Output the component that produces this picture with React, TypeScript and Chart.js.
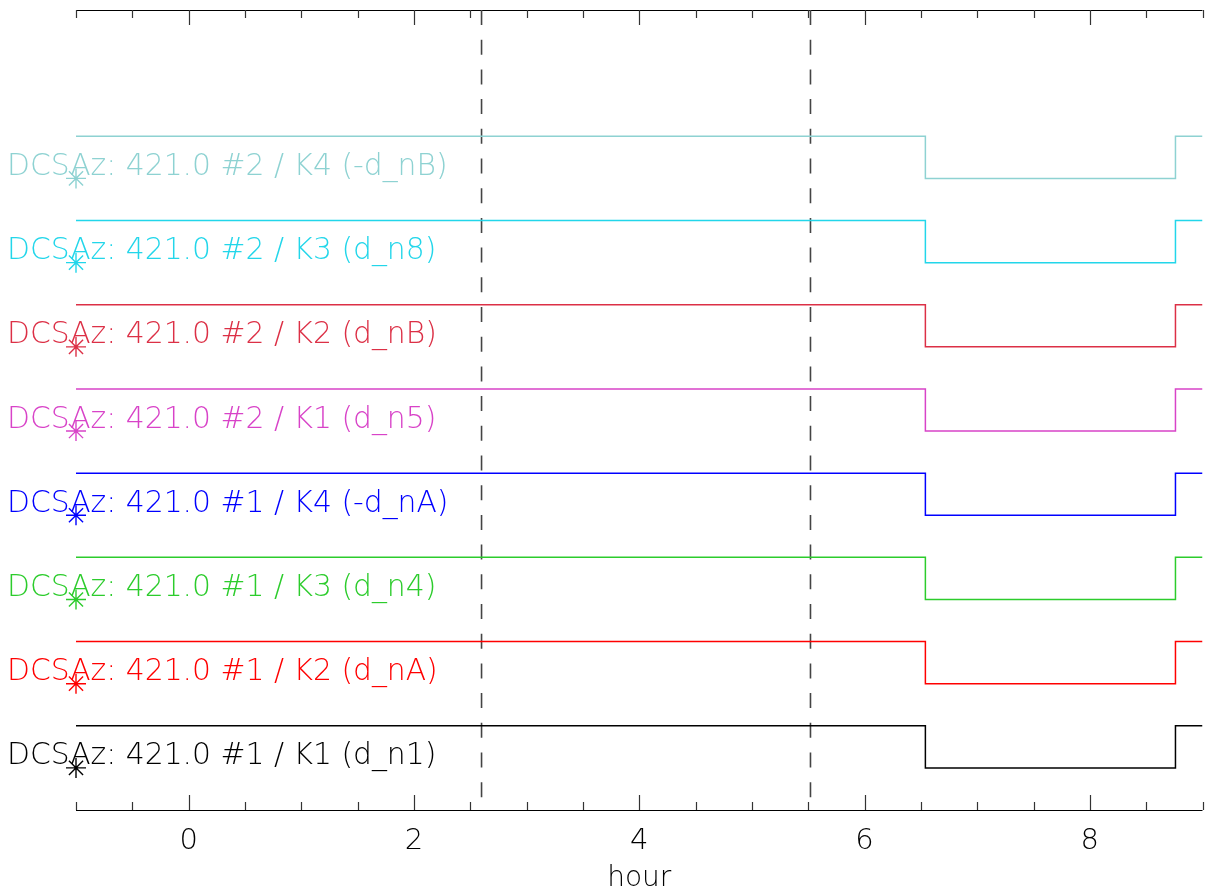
import React, { useEffect, useRef } from 'react';
import { Chart, registerables } from 'chart.js';

Chart.register(...registerables);

// ---- data ----
const seriesLabels = [
  'DCSAz: 421.0 #1 / K1 (d_n1)',
  'DCSAz: 421.0 #1 / K2 (d_nA)',
  'DCSAz: 421.0 #1 / K3 (d_n4)',
  'DCSAz: 421.0 #1 / K4 (-d_nA)',
  'DCSAz: 421.0 #2 / K1 (d_n5)',
  'DCSAz: 421.0 #2 / K2 (d_nB)',
  'DCSAz: 421.0 #2 / K3 (d_n8)',
  'DCSAz: 421.0 #2 / K4 (-d_nB)',
];
const seriesColors = [
  '#000000',
  '#ff0000',
  '#2ccc2c',
  '#0000ff',
  '#d843c8',
  '#dc3046',
  '#22d6ea',
  '#8ed2d2',
];
const stepTimes = [-1, 6.54, 8.76, 9];
const stepStates = [1, 0, 1, 1];
const markerTime = -1;
const dashedTimes = [2.6, 5.52];
const xTickValues = [0, 2, 4, 6, 8];
const xMin = -1;
const xMax = 9;
const minorStep = 0.5;
const majorStep = 2;
const yMin = 0;
const yMax = 9.5;

const FONT = '"DejaVu Sans", "Liberation Sans", sans-serif';

const decorPlugin = {
  id: 'decor',
  beforeDatasetsDraw(chart: any) {
    const { ctx, chartArea: a, scales } = chart;
    const x = scales.x;
    ctx.save();
    // top and bottom axis lines
    ctx.strokeStyle = '#000';
    ctx.lineWidth = 1.2;
    ctx.beginPath();
    ctx.moveTo(a.left, Math.round(a.top) + 0.5);
    ctx.lineTo(a.right, Math.round(a.top) + 0.5);
    ctx.moveTo(a.left, Math.round(a.bottom) + 0.5);
    ctx.lineTo(a.right, Math.round(a.bottom) + 0.5);
    ctx.stroke();
    // inward ticks
    ctx.strokeStyle = '#333';
    ctx.lineWidth = 1.2;
    ctx.beginPath();
    for (let k = 0; ; k++) {
      const v = xMin + k * minorStep;
      if (v > xMax + 1e-9) break;
      const px = Math.round(x.getPixelForValue(v)) + 0.5;
      const major = Math.abs(v / majorStep - Math.round(v / majorStep)) < 1e-9;
      const len = major ? 15 : 8;
      ctx.moveTo(px, a.bottom);
      ctx.lineTo(px, a.bottom - len);
      ctx.moveTo(px, a.top);
      ctx.lineTo(px, a.top + len);
    }
    ctx.stroke();
    // dashed vertical lines
    ctx.strokeStyle = '#444';
    ctx.lineWidth = 1.6;
    ctx.setLineDash([15, 14.7]);
    ctx.beginPath();
    dashedTimes.forEach((t) => {
      const px = x.getPixelForValue(t);
      ctx.moveTo(px, a.top);
      ctx.lineTo(px, a.bottom);
    });
    ctx.stroke();
    ctx.restore();
  },
  afterDatasetsDraw(chart: any) {
    const { ctx, scales } = chart;
    const y = scales.y;
    ctx.save();
    ctx.font = `200 29.8px ${FONT}`;
    ctx.textAlign = 'left';
    ctx.textBaseline = 'alphabetic';
    seriesLabels.forEach((label, i) => {
      const base = y.getPixelForValue(i + 0.5) - 3.5;
      ctx.fillStyle = seriesColors[i];
      ctx.fillText(label, 7, base);
    });
    ctx.restore();
  },
};

export default function App() {
  const ref = useRef<HTMLCanvasElement | null>(null);

  useEffect(() => {
    if (!ref.current) return;
    const lineSets = seriesLabels.map((label, i) => ({
      label,
      data: stepTimes.map((t, k) => ({ x: t, y: i + 0.5 + 0.5 * stepStates[k] })),
      borderColor: seriesColors[i],
      backgroundColor: seriesColors[i],
      borderWidth: 1.5,
      pointRadius: 0,
      showLine: true,
      stepped: 'before',
      fill: false,
    }));
    const starSets = seriesLabels.map((label, i) => ({
      label: label + ' marker',
      data: [{ x: markerTime, y: i + 0.5 }],
      borderColor: seriesColors[i],
      backgroundColor: seriesColors[i],
      pointStyle: 'star',
      pointRadius: 10,
      borderWidth: 1.4,
      showLine: false,
      clip: false,
    }));
    const chart = new Chart(ref.current, {
      type: 'scatter',
      data: { datasets: [...lineSets, ...starSets] as any },
      options: {
        responsive: false,
        animation: false,
        devicePixelRatio: 1,
        layout: { autoPadding: false, padding: { left: 76, right: 6.5, top: 10, bottom: 0 } },
        plugins: { legend: { display: false }, tooltip: { enabled: false } },
        scales: {
          x: {
            type: 'linear',
            min: xMin,
            max: xMax,
            position: 'bottom',
            afterBuildTicks: (s: any) => {
              s.ticks = xTickValues.map((v) => ({ value: v }));
            },
            afterFit: (s: any) => {
              s.height = 80;
            },
            grid: { display: false, drawTicks: false },
            border: { display: false },
            ticks: {
              font: { family: FONT, size: 29, weight: '200' },
              color: '#000',
              padding: 14,
              maxRotation: 0,
              autoSkip: false,
            },
            title: {
              display: true,
              text: 'hour',
              font: { family: FONT, size: 28, weight: '200', lineHeight: 1 },
              color: '#000',
              padding: { top: 0, bottom: -3 },
            },
          },
          y: { type: 'linear', min: yMin, max: yMax, display: false },
        },
      } as any,
      plugins: [decorPlugin],
    });
    return () => chart.destroy();
  }, []);

  return (
    <div style={{ position: 'absolute', left: 0, top: 0, width: 1209, height: 890, background: '#fff' }}>
      <canvas ref={ref} width={1209} height={890} />
    </div>
  );
}
